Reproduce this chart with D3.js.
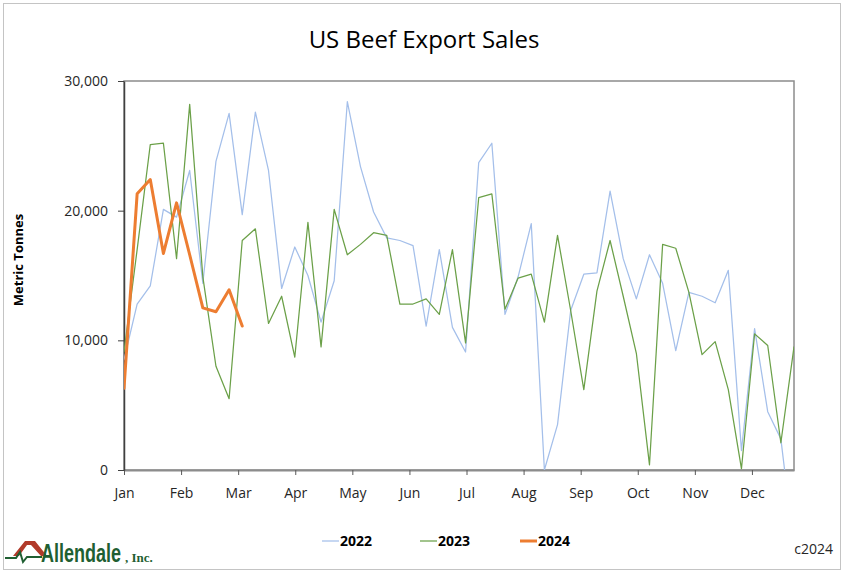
<!DOCTYPE html>
<html>
<head>
<meta charset="utf-8">
<script src="https://cdn.jsdelivr.net/npm/d3@7"></script>
<style>
  body { margin: 0; background: #fff; }
  svg { display: block; font-family: "Open Sans", "Liberation Sans", sans-serif; }
</style>
</head>
<body>
<svg id="chart" width="845" height="576"></svg>
<script>
// weekly net export sales, metric tonnes
var monthLabels = ["Jan","Feb","Mar","Apr","May","Jun","Jul","Aug","Sep","Oct","Nov","Dec"];
var yTicks = [0, 10000, 20000, 30000];
var seriesNames = ["2022", "2023", "2024"];

var sales2022 = [8500, 12800, 14200, 20100, 19500, 23100, 14400, 23800, 27500, 19700,
                 27600, 23100, 14000, 17200, 15000, 11400, 14600, 28400, 23400, 19900,
                 17900, 17700, 17300, 11100, 17000, 11000, 9100, 23700, 25200, 12000,
                 14900, 19000, 0, 3500, 12300, 15100, 15200, 21500, 16300, 13200,
                 16600, 14400, 9200, 13700, 13400, 12900, 15400, 1500, 10900, 4500,
                 2400, -6000];
var sales2023 = [9100, 17000, 25100, 25200, 16300, 28200, 14900, 8000, 5500, 17700,
                 18600, 11300, 13400, 8700, 19100, 9500, 20100, 16600, 17400, 18300,
                 18100, 12800, 12800, 13200, 12000, 17000, 9800, 21000, 21300, 12400,
                 14800, 15100, 11400, 18100, 12300, 6200, 13800, 17700, 13400, 9000,
                 400, 17400, 17100, 13700, 8900, 9900, 6200, 100, 10500, 9600,
                 2100, 9500];
var sales2024 = [6300, 21300, 22400, 16700, 20600, 16600, 12500, 12200, 13900, 11100];

var colors = {"2022": "#a4bfea", "2023": "#6ba048", "2024": "#ed7d31"};
var widths = {"2022": 1.25, "2023": 1.25, "2024": 3};

var svg = d3.select("#chart");
var margin = {left: 124, top: 81, right: 51, bottom: 106};
var W = 845, H = 576;
var plotW = W - margin.left - margin.right,
    plotH = H - margin.top - margin.bottom;

// outer frame
svg.append("rect")
  .attr("x", 3.5).attr("y", 3.5)
  .attr("width", 837).attr("height", 566)
  .attr("fill", "#fff")
  .attr("stroke", "#c4c4c4")
  .attr("stroke-width", 1);

svg.append("text")
  .attr("x", 424).attr("y", 48)
  .attr("text-anchor", "middle")
  .attr("font-size", 24)
  .attr("fill", "#000")
  .text("US Beef Export Sales");

var x = d3.scaleLinear().domain([0, 51]).range([0, plotW]);
var y = d3.scaleLinear().domain([0, 30000]).range([plotH, 0]);

var g = svg.append("g").attr("transform", "translate(" + margin.left + "," + margin.top + ")");

g.append("clipPath").attr("id", "plotclip")
  .append("rect").attr("width", plotW).attr("height", plotH);

// plot border (top/right)
g.append("rect")
  .attr("width", plotW).attr("height", plotH)
  .attr("fill", "none")
  .attr("stroke", "#8c8c8c")
  .attr("stroke-width", 1.5);

// month ticks, spaced by weeks per month
var monthTicks = d3.range(12).map(function(m) { return m * 365 / 7 / 12; });

var xAxis = g.append("g")
  .attr("transform", "translate(0," + plotH + ")")
  .call(d3.axisBottom(x).tickValues(monthTicks)
    .tickFormat(function(d, i) { return monthLabels[i]; })
    .tickSize(5).tickSizeOuter(0));
xAxis.select(".domain").attr("stroke", "#8c8c8c").attr("stroke-width", 2);
xAxis.selectAll(".tick line").attr("stroke", "#595959");
xAxis.selectAll(".tick text")
  .attr("dy", 0).attr("y", 28)
  .attr("font-size", 14).attr("fill", "#262626")
  .attr("font-family", "Open Sans, sans-serif");

var yAxis = g.append("g")
  .call(d3.axisLeft(y).tickValues(yTicks).tickFormat(d3.format(","))
    .tickSize(6).tickSizeOuter(0));
yAxis.select(".domain").attr("stroke", "#404040").attr("stroke-width", 1.5);
yAxis.selectAll(".tick line").attr("stroke", "#404040");
yAxis.selectAll(".tick text")
  .attr("x", -16)
  .attr("font-size", 14).attr("fill", "#262626")
  .attr("font-family", "Open Sans, sans-serif");

svg.append("text")
  .attr("transform", "translate(23,260) rotate(-90)")
  .attr("text-anchor", "middle")
  .attr("font-size", 13)
  .attr("font-weight", "bold")
  .attr("fill", "#000")
  .text("Metric Tonnes");

var line = d3.line()
  .x(function(d, i) { return x(i); })
  .y(function(d) { return y(d); });

var lines = g.append("g").attr("clip-path", "url(#plotclip)");
[["2022", sales2022], ["2023", sales2023], ["2024", sales2024]].forEach(function(s) {
  lines.append("path")
    .datum(s[1])
    .attr("fill", "none")
    .attr("stroke", colors[s[0]])
    .attr("stroke-width", widths[s[0]])
    .attr("stroke-linejoin", "round")
    .attr("stroke-linecap", "round")
    .attr("d", line);
});

// legend
var legendX = [322, 420, 520];
var legend = svg.append("g");
seriesNames.forEach(function(name, i) {
  legend.append("line")
    .attr("x1", legendX[i]).attr("x2", legendX[i] + 17)
    .attr("y1", 541).attr("y2", 541)
    .attr("stroke", colors[name])
    .attr("stroke-width", widths[name]);
  legend.append("text")
    .attr("x", legendX[i] + 18).attr("y", 546)
    .attr("font-size", 14).attr("font-weight", "bold")
    .attr("fill", "#000")
    .text(name);
});

svg.append("text")
  .attr("x", 833).attr("y", 554)
  .attr("text-anchor", "end")
  .attr("font-size", 14)
  .attr("fill", "#262626")
  .text("c2024");

// Allendale logo
var logo = svg.append("g");
logo.append("path")
  .attr("d", "M13,556 L25,541 L35,541 L47,556 L41,556 L31,545 L27,545 L19,556 Z")
  .attr("fill", "#b13a2a");
logo.append("path")
  .attr("d", "M5,558 L16,558 L20,552 L23,562 L27,557 L42,557")
  .attr("fill", "none")
  .attr("stroke", "#1f5f32")
  .attr("stroke-width", 2);
logo.append("text")
  .attr("transform", "translate(41,562) scale(1,1.45)")
  .attr("font-family", "Liberation Sans, sans-serif")
  .attr("font-size", 18).attr("font-weight", "bold")
  .attr("fill", "#1f5f32")
  .text("Allendale");
logo.append("text")
  .attr("x", 125).attr("y", 562)
  .attr("font-family", "Liberation Serif, serif")
  .attr("font-size", 13).attr("font-weight", "bold")
  .attr("fill", "#1f5f32")
  .text(", Inc.");
</script>
</body>
</html>
